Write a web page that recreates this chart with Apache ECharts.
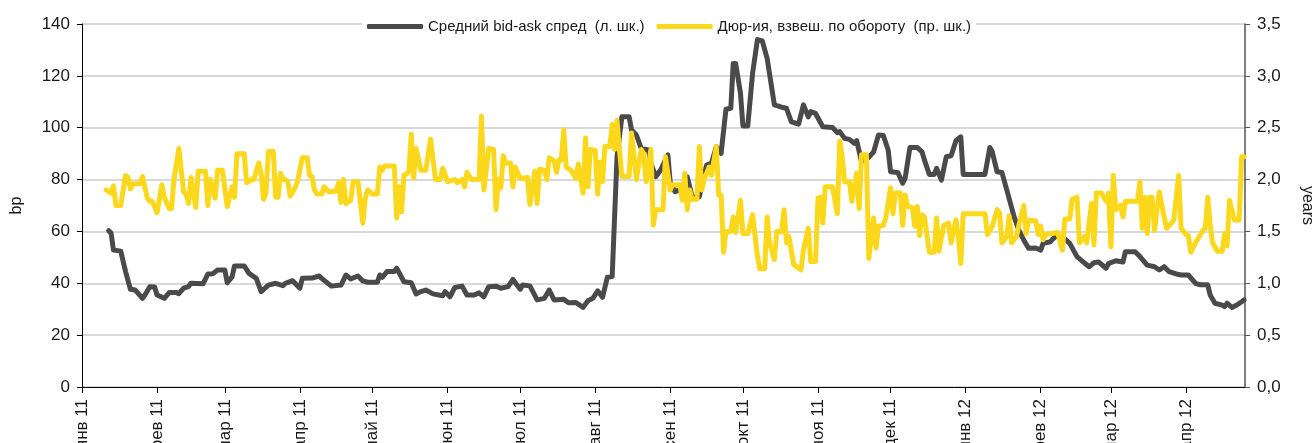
<!DOCTYPE html>
<html>
<head>
<meta charset="utf-8">
<script src="https://cdn.jsdelivr.net/npm/echarts@6/dist/echarts.min.js"></script>
<style>
html, body { margin: 0; padding: 0; background: #fff; }
#chart { width: 1314px; height: 443px; }
</style>
</head>
<body>
<div id="chart"></div>
<script>
// x values are days since 1 Jan 2011
var monthTicks = ['2011-01', '2011-02', '2011-03', '2011-04', '2011-05', '2011-06', '2011-07', '2011-08',
  '2011-09', '2011-10', '2011-11', '2011-12', '2012-01', '2012-02', '2012-03', '2012-04']
var monthNames = ['янв', 'фев', 'мар', 'апр', 'май', 'июн', 'июл', 'авг', 'сен', 'окт', 'ноя', 'дек']

// Средний bid-ask спред, bp (левая шкала)
var spreadDay = [11, 12, 13, 16, 18, 20, 22, 25, 26, 28, 30, 31, 34, 36, 39, 40, 42, 44, 45, 50, 52, 54, 56, 59, 60, 62, 63, 67, 69, 72,
  74, 77, 80, 83, 84, 87, 90, 91, 95, 98, 99, 103, 107, 109, 111, 114, 116, 118, 122, 123, 124, 126, 129, 130, 133, 136, 138, 140, 142, 145,
  149, 150, 152, 154, 157, 159, 162, 164, 166, 168, 171, 173, 176, 178, 181, 182, 185, 188, 191, 193, 195, 199, 201, 204, 207, 209, 211, 213, 215, 217,
  219, 221, 222, 223, 226, 227, 229, 231, 234, 235, 237, 239, 242, 243, 245, 248, 250, 252, 255, 258, 260, 262, 264, 266, 268, 269, 270, 272, 273, 275,
  277, 279, 281, 283, 286, 289, 291, 293, 296, 298, 300, 301, 303, 306, 310, 312, 313, 315, 317, 319, 320, 322, 325, 327, 329, 331, 333, 334, 337, 339,
  340, 342, 345, 347, 348, 350, 352, 353, 355, 357, 359, 361, 363, 364, 373, 375, 376, 378, 380, 382, 385, 387, 389, 391, 394, 396, 397, 400, 401, 403,
  404, 406, 408, 411, 414, 416, 418, 420, 423, 424, 427, 430, 431, 435, 437, 440, 443, 445, 447, 449, 452, 454, 457, 460, 462, 465, 466, 468, 471, 472,
  473, 475, 477, 479, 480]
var spreadBp = [60.3, 59.4, 52.8, 52.4, 44.5, 37.7, 37.4, 34.2, 35.5, 38.7, 38.6, 35.5, 34.2, 36.4, 36.4, 36, 38.1, 38.7, 40, 39.8, 43.6, 43.7, 45.1, 45.1, 40.2, 42.5, 46.7, 46.7, 43.8, 41.9,
  36.8, 39.3, 40, 39.1, 40, 41, 38.1, 41.9, 42, 42.8, 41.9, 38.9, 39.3, 43.2, 41.7, 42.8, 40.9, 40.4, 40.4, 43.2, 42.3, 44.5, 44.5, 45.8, 40.6, 40.2, 35.9, 36.8, 37.4, 35.9,
  35.2, 36.8, 34.8, 38.4, 38.9, 35.5, 35.5, 36.3, 34.8, 38.7, 38.9, 38.1, 38.7, 41.5, 37.7, 39.3, 39, 33.6, 34.2, 37.4, 33.6, 33.8, 32.5, 32.6, 30.7, 33.3, 34.2, 37.1, 34.6, 42.3,
  42.6, 88.8, 96.5, 104.2, 104.2, 99.1, 97.2, 92, 91.4, 86.3, 81.1, 83.7, 89.5, 78.6, 75.3, 76.6, 81.1, 73.4, 73.4, 85.6, 86.3, 92.7, 90.1, 107.1, 107.5, 124.8, 124.8, 113.3, 100.7, 100.7,
  121, 134, 133.5, 126.8, 108.8, 107.9, 107.5, 102.3, 101.4, 108.8, 104.2, 106.2, 105.5, 100.4, 100.1, 98.1, 98.5, 95.9, 95.5, 94, 95, 86.9, 88.6, 90.7, 97.2, 97, 91.4, 83, 82.7, 78.6,
  80.5, 92.4, 92.4, 90.7, 87.5, 82, 82, 84.3, 79.8, 88.8, 89.2, 95, 96.5, 82, 82, 92.4, 90.7, 83, 82.7, 76, 65.7, 60.5, 56.7, 53.5, 53.6, 52.8, 55.4, 56, 57.1, 58.6,
  57.1, 57.1, 55.4, 50.3, 47.9, 46.4, 47.9, 48.2, 45.8, 47.6, 48.7, 48.2, 52.2, 52.2, 50.3, 47, 46.4, 45.1, 46.4, 44.5, 43.6, 43.2, 43.2, 40, 39.4, 39.4, 35.5, 32.3, 31.6, 31,
  32.3, 30.7, 31.6, 32.9, 33.6]

// Дюрация, взвешенная по обороту, лет (правая шкала)
var durDay = [10, 12, 13, 14, 16, 18, 19, 20, 21, 24, 25, 27, 28, 29, 31, 33, 34, 36, 37, 38, 40, 42, 43, 44, 45, 47, 48, 51, 52, 53,
  55, 56, 58, 60, 62, 63, 64, 67, 68, 70, 71, 73, 74, 75, 76, 77, 79, 80, 81, 82, 83, 84, 85, 86, 88, 89, 91, 93, 94, 95,
  96, 97, 99, 100, 102, 105, 106, 107, 108, 109, 111, 112, 114, 116, 117, 118, 120, 122, 123, 124, 125, 129, 130, 131, 132, 133, 135, 136, 137, 138,
  140, 142, 144, 146, 148, 149, 151, 154, 155, 157, 158, 159, 161, 164, 165, 166, 168, 170, 171, 172, 173, 174, 175, 177, 178, 179, 181, 184, 185, 187,
  188, 189, 191, 192, 193, 195, 196, 197, 198, 199, 200, 202, 204, 205, 207, 208, 209, 210, 212, 213, 214, 215, 216, 218, 219, 220, 221, 222, 223, 226,
  227, 229, 231, 232, 233, 235, 236, 237, 240, 241, 243, 244, 247, 248, 249, 250, 251, 252, 254, 255, 256, 257, 259, 260, 262, 263, 264, 265, 266, 268,
  269, 270, 272, 273, 275, 277, 279, 280, 282, 283, 284, 286, 287, 289, 290, 291, 292, 294, 297, 298, 300, 301, 303, 304, 305, 306, 307, 310, 312, 313,
  314, 315, 317, 318, 320, 321, 322, 324, 325, 327, 328, 329, 331, 332, 334, 335, 336, 338, 339, 340, 341, 343, 344, 345, 346, 347, 348, 350, 352, 353,
  354, 356, 358, 359, 361, 362, 363, 364, 373, 374, 376, 378, 379, 380, 382, 383, 384, 386, 387, 389, 390, 391, 394, 395, 396, 397, 398, 403, 405, 406,
  408, 409, 410, 411, 412, 414, 415, 417, 418, 419, 421, 423, 424, 425, 426, 427, 429, 430, 431, 436, 437, 438, 439, 440, 441, 442, 443, 445, 447, 448,
  450, 451, 453, 454, 456, 457, 458, 460, 461, 463, 464, 465, 466, 467, 469, 471, 472, 473, 474, 476, 478, 479, 480]
var durYears = [1.90, 1.87, 1.94, 1.75, 1.75, 2.04, 2.02, 1.91, 1.96, 1.96, 2.03, 1.82, 1.79, 1.79, 1.68, 1.95, 1.83, 1.72, 1.72, 2.00, 2.30, 1.88, 1.86, 1.77, 2.02, 1.73, 2.08, 2.08, 1.75, 2.00,
  1.82, 2.09, 2.09, 1.74, 1.93, 1.83, 2.25, 2.25, 1.97, 2.00, 2.00, 2.16, 2.06, 1.81, 1.87, 2.27, 2.27, 1.83, 1.83, 2.06, 2.00, 2.00, 1.98, 1.84, 1.92, 1.98, 2.21, 2.21, 2.04, 2.03,
  1.90, 1.86, 1.86, 1.93, 1.88, 1.89, 1.97, 1.78, 2.00, 1.77, 1.80, 1.98, 1.98, 1.58, 1.82, 1.90, 1.86, 1.86, 2.12, 2.09, 2.13, 2.13, 1.63, 1.93, 1.69, 2.04, 2.07, 2.44, 2.02, 2.30,
  2.09, 2.09, 2.39, 2.00, 2.00, 2.11, 1.98, 2.00, 1.97, 2.00, 1.93, 2.07, 2.00, 2.00, 2.61, 1.90, 2.30, 2.29, 1.71, 2.00, 1.92, 2.23, 2.16, 2.16, 1.93, 2.12, 2.01, 2.02, 1.76, 2.08,
  1.77, 2.10, 2.09, 2.00, 2.21, 2.18, 2.07, 2.19, 2.19, 2.48, 2.12, 2.09, 2.01, 2.15, 1.87, 2.40, 1.93, 2.29, 2.28, 1.86, 2.17, 1.98, 2.32, 2.32, 2.53, 2.29, 2.57, 2.29, 2.03, 2.03,
  2.45, 2.00, 2.29, 2.25, 1.98, 2.29, 1.56, 1.71, 1.71, 2.22, 1.90, 1.95, 1.95, 1.80, 2.06, 1.71, 1.90, 1.81, 1.81, 2.32, 1.90, 2.00, 2.12, 2.04, 2.32, 1.85, 1.85, 1.30, 1.50, 1.50,
  1.64, 1.49, 1.80, 1.48, 1.48, 1.66, 1.26, 1.14, 1.14, 1.64, 1.39, 1.23, 1.50, 1.50, 1.71, 1.39, 1.45, 1.18, 1.13, 1.32, 1.53, 1.21, 1.21, 1.82, 1.83, 1.58, 1.93, 1.93, 1.67, 2.37,
  2.22, 1.98, 1.98, 1.79, 2.06, 1.72, 2.24, 2.24, 1.24, 1.63, 1.34, 1.55, 1.56, 1.63, 1.92, 1.67, 1.87, 1.87, 1.56, 1.85, 1.74, 1.73, 1.55, 1.74, 1.46, 1.66, 1.64, 1.30, 1.30, 1.63,
  1.31, 1.56, 1.58, 1.39, 1.61, 1.45, 1.19, 1.67, 1.67, 1.47, 1.55, 1.71, 1.68, 1.39, 1.45, 1.65, 1.39, 1.45, 1.56, 1.75, 1.48, 1.61, 1.60, 1.47, 1.55, 1.42, 1.47, 1.49, 1.32, 1.62,
  1.62, 1.81, 1.82, 1.83, 1.39, 1.45, 1.39, 1.77, 1.37, 1.87, 1.87, 1.79, 1.87, 1.35, 2.04, 1.71, 1.75, 1.64, 1.79, 1.79, 1.98, 1.53, 1.83, 1.48, 1.83, 1.83, 1.51, 1.88, 1.64, 1.53,
  1.58, 1.61, 2.04, 1.53, 1.47, 1.46, 1.30, 1.39, 1.43, 1.51, 1.53, 1.83, 1.56, 1.39, 1.31, 1.31, 1.48, 1.36, 1.80, 1.61, 1.61, 2.22, 2.22]

var DAY = 86400000
var T0 = Date.UTC(2011, 0, 1)
var monthDay = monthTicks.map(function (s) {
  var p = s.split('-')
  return (Date.UTC(+p[0], +p[1] - 1, 1) - T0) / DAY
})
var monthLabel = monthTicks.map(function (s) {
  var p = s.split('-')
  return monthNames[+p[1] - 1] + ' ' + p[0].slice(2)
})

var font = "'Liberation Sans', Arial, sans-serif"

var myChart = echarts.init(document.getElementById('chart'))
myChart.setOption({
  animation: false,
  backgroundColor: '#fff',
  grid: { left: 82, right: 69, top: 24, bottom: 56, outerBoundsMode: 'none' },
  legend: {
    top: 17,
    left: 362,
    backgroundColor: '#fff',
    padding: [2, 5],
    itemGap: 12,
    itemWidth: 56,
    itemHeight: 5,
    icon: 'roundRect',
    textStyle: { color: '#1a1a1a', fontSize: 15, fontFamily: font },
    data: ['Средний bid-ask спред  (л. шк.)', 'Дюр-ия, взвеш. по обороту  (пр. шк.)']
  },
  xAxis: {
    type: 'value',
    min: 0,
    max: 480.4,
    axisLine: { lineStyle: { color: '#000', width: 1 } },
    axisTick: { customValues: monthDay, length: 6, lineStyle: { color: '#000' } },
    splitLine: { show: false },
    axisLabel: {
      customValues: monthDay,
      rotate: 90,
      margin: 12,
      color: '#1a1a1a',
      fontSize: 17,
      fontFamily: font,
      formatter: function (v) {
        var i = monthDay.indexOf(v)
        return i >= 0 ? monthLabel[i] : ''
      }
    }
  },
  yAxis: [{
    type: 'value',
    min: 0,
    max: 140,
    interval: 20,
    name: 'bp',
    nameLocation: 'middle',
    nameRotate: 90,
    nameGap: 57,
    nameTextStyle: { color: '#1a1a1a', fontSize: 16, fontFamily: font },
    axisLine: { show: true, lineStyle: { color: '#000', width: 1 } },
    axisTick: { show: true, length: 5, lineStyle: { color: '#000' } },
    axisLabel: { margin: 12, color: '#1a1a1a', fontSize: 17, fontFamily: font },
    splitLine: { lineStyle: { color: '#d9d9d9', width: 2 } }
  }, {
    type: 'value',
    min: 0,
    max: 3.5,
    interval: 0.5,
    position: 'right',
    name: 'years',
    nameLocation: 'middle',
    nameRotate: -90,
    nameGap: 54,
    nameTextStyle: { color: '#1a1a1a', fontSize: 16, fontFamily: font },
    axisLine: { show: true, lineStyle: { color: '#555', width: 1.5 } },
    axisTick: { show: true, length: 5, lineStyle: { color: '#555' } },
    axisLabel: {
      margin: 12,
      color: '#1a1a1a',
      fontSize: 17,
      fontFamily: font,
      formatter: function (v) { return v.toFixed(1).replace('.', ',') }
    },
    splitLine: { show: false }
  }],
  series: [{
    name: 'Средний bid-ask спред  (л. шк.)',
    type: 'line',
    yAxisIndex: 0,
    symbol: 'none',
    color: '#4a4a4a',
    lineStyle: { width: 5, color: '#4a4a4a', cap: 'round', join: 'round' },
    data: spreadDay.map(function (d, i) { return [d, spreadBp[i]] })
  }, {
    name: 'Дюр-ия, взвеш. по обороту  (пр. шк.)',
    type: 'line',
    yAxisIndex: 1,
    symbol: 'none',
    color: '#fbd81c',
    lineStyle: { width: 5, color: '#fbd81c', cap: 'round', join: 'round' },
    data: durDay.map(function (d, i) { return [d, durYears[i]] })
  }]
})
</script>
</body>
</html>
